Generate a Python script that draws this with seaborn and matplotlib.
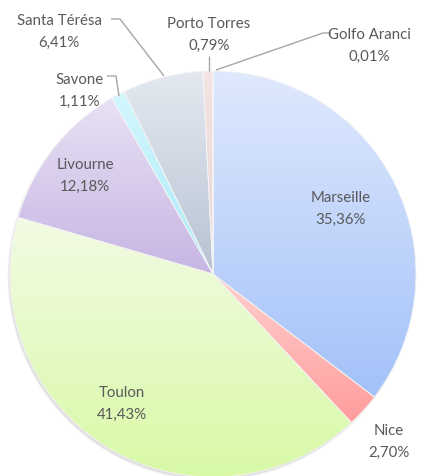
import numpy as np
import matplotlib
matplotlib.use("Agg")
import matplotlib.pyplot as plt
import matplotlib.colors as mcolors
import seaborn as sns

sns.set_theme(style="white")
plt.rcParams['font.family'] = ['Lato', 'DejaVu Sans']

categories = ["Marseille", "Nice", "Toulon", "Livourne", "Savone",
              "Santa Térésa", "Porto Torres", "Golfo Aranci"]
values = [35.36, 2.70, 41.43, 12.18, 1.11, 6.41, 0.79, 0.01]
value_labels = ["35,36%", "2,70%", "41,43%", "12,18%", "1,11%",
                "6,41%", "0,79%", "0,01%"]

# gradient (top, bottom) colours per slice
top_colors = ["#dfe9fd", "#ffd0d0", "#f2fbe4", "#e9e1f4", "#d4f6fd",
              "#e4e9f0", "#f4e4e4", "#f4e4e4"]
bot_colors = ["#a3c1f9", "#ff9c9c", "#d8f9a6", "#c6b5e3", "#a9ecfa",
              "#b7c3d3", "#ecd2d2", "#ecd2d2"]

W, H = 429, 477
fig = plt.figure(figsize=(W / 100, H / 100), dpi=100)
ax = fig.add_axes([0, 0, 1, 1])

cx, cy, r = 213, 477 - 275, 203

# soft shadow
for i, a in enumerate([0.05, 0.05, 0.05, 0.05]):
    sh = plt.Circle((cx - 1.5, cy - 2.5), r + 1.0 - i * 0.6, color="#606060",
                    alpha=a, lw=0, zorder=0)
    ax.add_patch(sh)

wedges, _ = ax.pie(values, startangle=90, counterclock=False,
                   center=(cx, cy), radius=r,
                   wedgeprops=dict(linewidth=0.6, edgecolor="#f4f4f4"),
                   colors=top_colors)

for w, c0, c1 in zip(wedges, top_colors, bot_colors):
    ext = w.get_path().get_extents()
    x0, y0, x1, y1 = ext.x0, ext.y0, ext.x1, ext.y1
    cmap = mcolors.LinearSegmentedColormap.from_list("g", [c1, c0])
    grad = np.linspace(0, 1, 256).reshape(-1, 1)
    im = ax.imshow(grad, cmap=cmap, extent=(x0, x1, y0, y1), origin="lower",
                   aspect="auto", zorder=2, interpolation="bilinear")
    im.set_clip_path(w)

for w in wedges:
    w.set_facecolor("none")
    w.set_zorder(3)

txt_color = "#595959"
fs = 10.8
label_pos = {
    "Marseille": (341, 209),
    "Nice": (389, 442),
    "Toulon": (122, 404),
    "Livourne": (85, 176),
    "Savone": (80, 91),
    "Santa Térésa": (59, 32),
    "Porto Torres": (209, 35),
    "Golfo Aranci": (369, 46),
}
for name, vl in zip(categories, value_labels):
    px, py = label_pos[name]
    ax.text(px, H - py, f"{name}\n{vl}", ha="center", va="center",
            fontsize=fs, color=txt_color, linespacing=1.75, zorder=5)

line_c = "#a6a6a6"
leaders = [
    [(111, 20), (120, 20), (164, 77)],        # Santa Térésa
    [(107, 77), (116, 77), (119, 97)],        # Savone
    [(209, 57), (209, 72)],                   # Porto Torres
    [(331, 34), (323, 34), (216, 71)],        # Golfo Aranci
]
for pts in leaders:
    xs = [p[0] for p in pts]
    ys = [H - p[1] for p in pts]
    ax.plot(xs, ys, color=line_c, lw=1.0, zorder=4, solid_capstyle="butt")

ax.set_xlim(0, W)
ax.set_ylim(0, H)
ax.set_aspect("equal")
ax.axis("off")
fig.savefig("out.png", dpi=100)
